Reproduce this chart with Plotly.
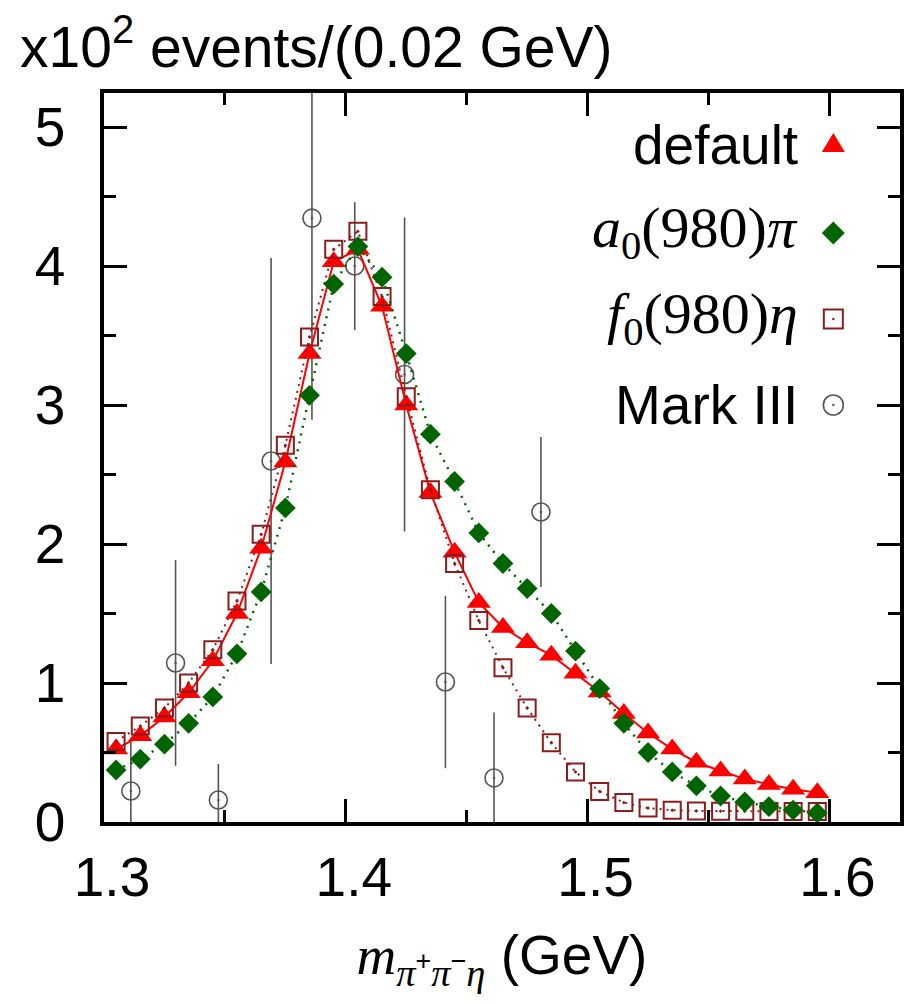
import plotly.graph_objects as go

# Bin centres of the model histograms (GeV)
mass_bins = [1.305, 1.315, 1.325, 1.335, 1.345, 1.355, 1.365, 1.375, 1.385, 1.395,
             1.405, 1.415, 1.425, 1.435, 1.445, 1.455, 1.465, 1.475, 1.485, 1.495,
             1.505, 1.515, 1.525, 1.535, 1.545, 1.555, 1.565, 1.575, 1.585, 1.595]

# Model predictions (x10^2 events / 0.02 GeV)
default_model = [0.525, 0.62, 0.755, 0.93, 1.16, 1.50, 1.97, 2.59, 3.37, 4.03,
                 4.12, 3.71, 3.00, 2.37, 1.94, 1.58, 1.40, 1.29, 1.20, 1.07,
                 0.935, 0.78, 0.64, 0.525, 0.43, 0.367, 0.31, 0.27, 0.235, 0.21]
a0pi_model = [0.374, 0.453, 0.56, 0.71, 0.90, 1.21, 1.655, 2.26, 3.07, 3.87,
              4.14, 3.92, 3.37, 2.79, 2.45, 2.08, 1.86, 1.68, 1.50, 1.23,
              0.96, 0.71, 0.50, 0.36, 0.26, 0.187, 0.144, 0.11, 0.086, 0.065]
f0eta_model = [0.58, 0.69, 0.82, 1.00, 1.24, 1.59, 2.07, 2.71, 3.49, 4.12,
               4.25, 3.78, 3.06, 2.39, 1.86, 1.45, 1.11, 0.82, 0.57, 0.36,
               0.22, 0.14, 0.10, 0.085, 0.08, 0.078, 0.078, 0.075, 0.075, 0.075]

# Mark III measurement
mark3_mass = [1.3111, 1.3296, 1.3473, 1.3691, 1.3860, 1.4037, 1.4243, 1.4412, 1.4613, 1.4807]
mark3_events = [0.223, 1.144, 0.158, 2.597, 4.345, 4.00, 3.22, 1.007, 0.317, 2.23]
mark3_error = [0.35, 0.74, 0.26, 1.46, 1.45, 0.46, 1.13, 0.62, 0.47, 0.54]

# Axis settings
x_range = [1.3, 1.6292]
y_range = [0, 5.245]
x_ticks = [1.3, 1.4, 1.5, 1.6]
y_ticks = [0, 1, 2, 3, 4, 5]

RED = "#ff0000"
GREEN = "#006400"
DARKRED = "#8b1c1c"
GREY = "#555555"
SANS = "Liberation Sans, Arial, sans-serif"
SERIF = "Liberation Serif, Times New Roman, serif"


def serif(s):
    return f"<span style='font-family:Liberation Serif'>{s}</span>"


fig = go.Figure()

fig.add_trace(go.Scatter(
    x=mark3_mass, y=mark3_events, mode="markers",
    marker=dict(symbol="circle-open-dot", size=18, color=GREY, line=dict(width=1.6, color=GREY)),
    error_y=dict(type="data", array=mark3_error, width=0, thickness=1.6, color=GREY),
    cliponaxis=True, showlegend=False))

fig.add_trace(go.Scatter(
    x=mass_bins, y=default_model, mode="lines+markers",
    line=dict(color=RED, width=2),
    marker=dict(symbol="triangle-up", size=21, color=RED, line=dict(width=0)),
    showlegend=False))

fig.add_trace(go.Scatter(
    x=mass_bins, y=f0eta_model, mode="lines+markers",
    line=dict(color=DARKRED, width=2, dash="2px,5px"),
    marker=dict(symbol="square-open-dot", size=17, color=DARKRED, line=dict(width=2, color=DARKRED)),
    showlegend=False))

fig.add_trace(go.Scatter(
    x=mass_bins, y=a0pi_model, mode="lines+markers",
    line=dict(color=GREEN, width=2.5, dash="2px,6px"),
    marker=dict(symbol="diamond", size=16, color=GREEN, line=dict(width=0)),
    showlegend=False))

# Key: labels (right aligned) followed by the symbol
L, R, T, B = 104, 1, 93, 182
W, H = 905 - L - R, 1004 - T - B


def px_x(p):
    return (p - L) / W


def px_y(p):
    return (1004 - B - p) / H


key_labels = [
    ("default", SANS, 55, 145),
    ("<i>a</i><sub>0</sub>(980)<i>π</i>", SERIF, 58, 231),
    ("<i>f</i><sub>0</sub>(980)<i>η</i>", SERIF, 58, 317),
    ("Mark III", SANS, 55, 405),
]
for text, fam, fsize, yp in key_labels:
    fig.add_annotation(x=px_x(803), y=px_y(yp), xref="paper", yref="paper",
                       text=text, showarrow=False, xanchor="right", yanchor="middle",
                       font=dict(family=fam, size=fsize, color="black"))

kx = px_x(837)
shapes = []


def pix_shape(yp, **kw):
    d = dict(xref="paper", yref="paper", xsizemode="pixel", ysizemode="pixel",
             xanchor=kx, yanchor=px_y(yp))
    d.update(kw)
    return d


shapes.append(pix_shape(145, type="path", path="M -11.5,-7 L 11.5,-7 L 0,12 Z",
                        fillcolor=RED, line=dict(width=0)))
shapes.append(pix_shape(233, type="path", path="M -11.5,0 L 0,11.5 L 11.5,0 L 0,-11.5 Z",
                        fillcolor=GREEN, line=dict(width=0)))
shapes.append(pix_shape(319, type="rect", x0=-9.5, x1=9.5, y0=-9.5, y1=9.5,
                        line=dict(color=DARKRED, width=2)))
shapes.append(pix_shape(319, type="circle", x0=-1.2, x1=1.2, y0=-1.2, y1=1.2,
                        fillcolor=DARKRED, line=dict(width=0)))
shapes.append(pix_shape(405, type="circle", x0=-10, x1=10, y0=-10, y1=10,
                        line=dict(color=GREY, width=1.6)))
shapes.append(pix_shape(405, type="circle", x0=-1.2, x1=1.2, y0=-1.2, y1=1.2,
                        fillcolor=GREY, line=dict(width=0)))

# Y-axis caption above the frame
fig.add_annotation(x=px_x(18), y=px_y(43), xref="paper", yref="paper",
                   text="x10<sup>2</sup> events/(0.02 GeV)", showarrow=False,
                   xanchor="left", yanchor="middle",
                   font=dict(family=SANS, size=57, color="black"))

axis_common = dict(
    showline=True, linecolor="black", linewidth=3.5, mirror="allticks",
    ticks="inside", ticklen=23, tickwidth=2.5, tickcolor="black",
    showgrid=False, zeroline=False,
    tickfont=dict(family=SANS, size=55, color="black"),
)

x_title = (serif("<i>m</i>")
           + "<sub>" + serif("<i>π</i>") + "<sup>+</sup>" + serif("<i>π</i>")
           + "<sup>−</sup>" + serif("<i>η</i>") + "</sub> (GeV)")

fig.update_xaxes(range=x_range, tickvals=x_ticks, ticktext=[f"{v:.1f}" for v in x_ticks],
                 ticklabelshift=8, ticklabelstandoff=4,
                 minor=dict(dtick=0.05, tick0=1.3, ticks="inside", ticklen=12, tickwidth=2.5,
                            tickcolor="black", showgrid=False),
                 title=dict(text=x_title,
                            font=dict(family=SANS, size=55, color="black"), standoff=30),
                 **axis_common)
fig.update_yaxes(range=y_range, tickvals=y_ticks, ticktext=[str(v) for v in y_ticks],
                 ticklabelstandoff=24,
                 minor=dict(dtick=0.5, tick0=0, ticks="inside", ticklen=12, tickwidth=2.5,
                            tickcolor="black", showgrid=False),
                 **axis_common)

fig.update_layout(
    width=905, height=1004,
    margin=dict(l=L, r=R, t=T, b=B),
    paper_bgcolor="white", plot_bgcolor="white",
    shapes=shapes, showlegend=False,
)

fig.write_html("out.html")
